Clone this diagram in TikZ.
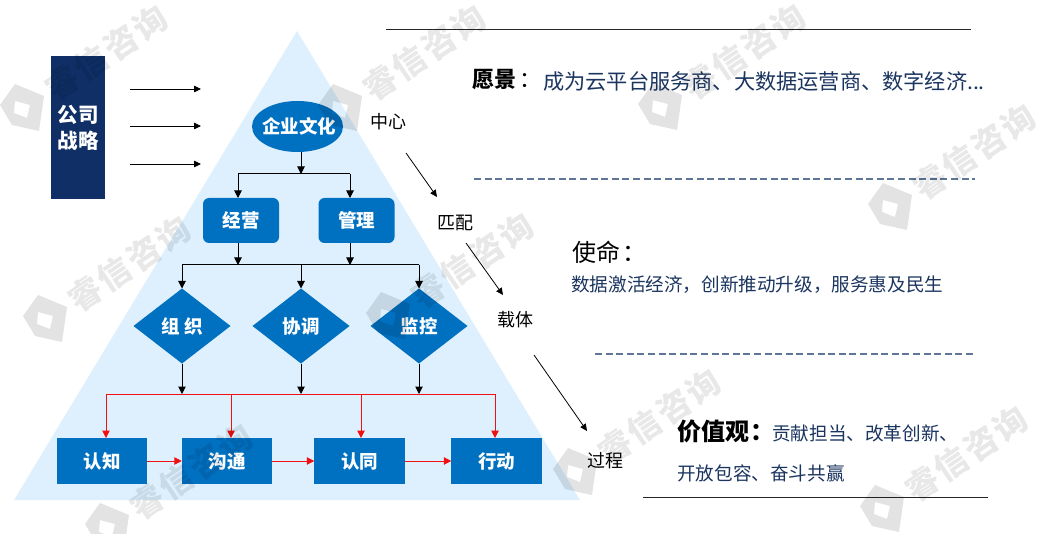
\documentclass[tikz,border=0pt]{standalone}
\usepackage{fontspec}
\setmainfont{Noto Sans CJK SC}
\newfontfamily\wmfont[LetterSpace=8]{Noto Sans CJK SC}
\usetikzlibrary{arrows.meta,shapes.geometric,calc}
\definecolor{tri}{HTML}{DEF0FE}
\definecolor{boxblue}{HTML}{0070C0}
\definecolor{navybox}{HTML}{0F2F66}
\definecolor{dashblue}{HTML}{5F7698}
\definecolor{txtnavy}{HTML}{1B3560}
\definecolor{redline}{HTML}{F01010}
\newcommand{\fs}[1]{\fontsize{#1}{#1}\selectfont}
\newcommand{\lbl}[1]{\raisebox{-7.5pt}[0pt][0pt]{#1}}
\tikzset{
  flow/.style={draw=black,line width=1pt,-{Triangle[length=7.5pt,width=7.5pt]}},
  flowplain/.style={draw=black,line width=1pt},
  redflow/.style={draw=redline,line width=1pt,-{Triangle[length=7.5pt,width=7.5pt]}},
  redplain/.style={draw=redline,line width=1pt},
  thinarrow/.style={draw=black,line width=.8pt,-{Triangle[length=7pt,width=6.5pt]}},
  whitelabel/.style={text=white,font=\fs{18.5}\bfseries,inner sep=0pt,outer sep=0pt,align=center},
  rbox/.style={whitelabel,fill=boxblue,rounded corners=6pt,minimum width=76pt,minimum height=45pt},
  sqbox/.style={whitelabel,fill=boxblue,minimum width=90.5pt,minimum height=46pt},
  dia/.style={whitelabel,fill=boxblue,diamond,aspect=1.29,minimum width=97pt,minimum height=75pt},
  sidelabel/.style={text=black,font=\fs{18},inner sep=0pt},
  bodytext/.style={text=txtnavy,font=\fs{18.6},inner sep=0pt,anchor=west},
  heading/.style={text=black,inner sep=0pt,anchor=west},
  rulebar/.style={draw=black!85,line width=1pt},
  dashrule/.style={draw=dashblue,line width=1.2pt,dash pattern=on 7pt off 3.6pt},
  wmtext/.style={text=black,text opacity=.09,font=\fs{33}\wmfont\bfseries,inner sep=0pt,rotate=34},
}
\begin{document}
\begin{tikzpicture}[x=1pt,y=-1pt]
\useasboundingbox (0,0) rectangle (1040,534);
\clip (0,0) rectangle (1040,534);
\fill[white] (0,0) rectangle (1040,534);
% pyramid
\fill[tri] (297,31) -- (580,500) -- (14,500) -- cycle;
% strategy box
\node[fill=navybox,minimum width=54pt,minimum height=143pt,inner sep=0pt,outer sep=0pt] (strategy) at (78,127.5) {};
\node[text=white,font=\fs{20.5}\bfseries,inner sep=0pt] (strat1) at (78,115) {公司};
\node[text=white,font=\fs{20.5}\bfseries,inner sep=0pt] (strat2) at (78,141) {战略};
\coordinate (s1a) at (130,89); \coordinate (s1b) at (201,89);
\coordinate (s2a) at (130,126); \coordinate (s2b) at (201,126);
\coordinate (s3a) at (130,164); \coordinate (s3b) at (201,164);
\draw[thinarrow] (s1a) -- (s1b);
\draw[thinarrow] (s2a) -- (s2b);
\draw[thinarrow] (s3a) -- (s3b);
% nodes
\node[whitelabel,fill=boxblue,ellipse,minimum width=91pt,minimum height=51pt] (culture) at (297.5,126.5) {\lbl{\makebox[0pt]{\kern3pt 企业文化}}};
\node[rbox] (jy) at (241,220.5) {\lbl{经营}};
\node[rbox] (gl) at (356.5,220.5) {\lbl{管理}};
\node[dia] (zz) at (182,326) {\lbl{组 织}};
\node[dia] (xt) at (301,326) {\lbl{协调}};
\node[dia] (jk) at (419,326) {\lbl{监控}};
\node[sqbox] (rz) at (102,461) {\lbl{认知}};
\node[sqbox] (gt) at (227,461) {\lbl{沟通}};
\node[sqbox] (rt) at (359.5,461) {\lbl{认同}};
\node[sqbox] (xd) at (496.5,461) {\lbl{行动}};
% black connectors
\coordinate (c1) at (301,174); \coordinate (c1l) at (238,174); \coordinate (c1r) at (350,174);
\draw[flow] (c1 |- culture.south) -- (c1);
\draw[flowplain] (c1l) -- (c1r);
\draw[flow] (c1l) -- (c1l |- jy.north);
\draw[flow] (c1r) -- (c1r |- gl.north);
\coordinate (c2) at (301,265); \coordinate (c2l) at (182,265); \coordinate (c2r) at (419,265);
\coordinate (c2a) at (238,265); \coordinate (c2b) at (350,265);
\draw[flow] (c2a |- jy.south) -- (c2a);
\draw[flow] (c2b |- gl.south) -- (c2b);
\draw[flowplain] (c2l) -- (c2r);
\draw[flow] (c2l) -- (zz.north);
\draw[flow] (c2) -- (xt.north);
\draw[flow] (c2r) -- (jk.north);
\coordinate (c3a) at (182,394); \coordinate (c3b) at (301,394); \coordinate (c3c) at (419,394);
\draw[flow] (zz.south) -- (c3a);
\draw[flow] (xt.south) -- (c3b);
\draw[flow] (jk.south) -- (c3c);
% red connectors
\coordinate (r1) at (106,394); \coordinate (r2) at (231,394); \coordinate (r3) at (361,394); \coordinate (r4) at (495,394);
\draw[redplain] (r1) -- (r4);
\draw[redflow] (r1) -- (r1 |- rz.north);
\draw[redflow] (r2) -- (r2 |- gt.north);
\draw[redflow] (r3) -- (r3 |- rt.north);
\draw[redflow] (r4) -- (r4 |- xd.north);
\draw[redflow] (rz.east) -- (gt.west);
\draw[redflow] (gt.east) -- (rt.west);
\draw[redflow] (rt.east) -- (xd.west);
% side labels
\node[sidelabel] (zx) at (388,122) {中心};
\node[sidelabel] (pp) at (455.5,223) {匹配};
\node[sidelabel] (zt) at (515.5,320) {载体};
\node[sidelabel] (gc) at (605.5,461) {过程};
\coordinate (a1) at (406,153); \coordinate (a1e) at (437,197);
\coordinate (a2) at (466,243); \coordinate (a2e) at (503,295);
\coordinate (a3) at (534,355); \coordinate (a3e) at (587,431);
\draw[thinarrow] (a1) -- (a1e);
\draw[thinarrow] (a2) -- (a2e);
\draw[thinarrow] (a3) -- (a3e);
% rules
\coordinate (l1a) at (386,30); \coordinate (l1b) at (971,30);
\coordinate (l2a) at (474,179); \coordinate (l2b) at (975,179);
\coordinate (l3a) at (595,354); \coordinate (l3b) at (975,354);
\coordinate (l4a) at (643,497); \coordinate (l4b) at (988,497);
\draw[rulebar] (l1a) -- (l1b);
\draw[dashrule] (l2a) -- (l2b);
\draw[dashrule] (l3a) -- (l3b);
\draw[rulebar] (l4a) -- (l4b);
% right text
\node[heading,font=\fs{22}\bfseries] (yj) at (472,80) {愿景{\mdseries\kern3pt：}};
\node[bodytext,font=\fs{21.2}] (yjt) at (543,81) {成为云平台服务商、大数据运营商、数字经济...};
\node[heading,font=\fs{24}] (sm) at (572,252) {使命{\kern2pt：}};
\node[bodytext] (smt) at (571,285) {数据激活经济，创新推动升级，服务惠及民生};
\node[heading,font=\fs{24}\bfseries] (jz) at (677,431) {价值观{\kern1pt：}};
\node[bodytext] (jzt) at (772,433) {贡献担当、改革创新、};
\node[bodytext] (jzu) at (677,473) {开放包容、奋斗共赢};
% watermarks
\foreach \i/\x/\y in {1/22/108,2/340/108,3/45/319,4/388/316,5/660/107,6/890/207,7/107/527,8/575/472,9/882/509}{
  \begin{scope}[shift={(\x,\y)}]
    \fill[black,opacity=.11,even odd rule]
      (-22,-3) -- (-7,-24) -- (22,-12) -- (17,23) -- (-10,17) -- cycle
      (-7,-7) -- (8,-3) -- (5,10) -- (-8,5) -- cycle;
    \node[wmtext] (wm\i) at (84,-55) {睿信咨询};
  \end{scope}
}
\end{tikzpicture}
\end{document}
